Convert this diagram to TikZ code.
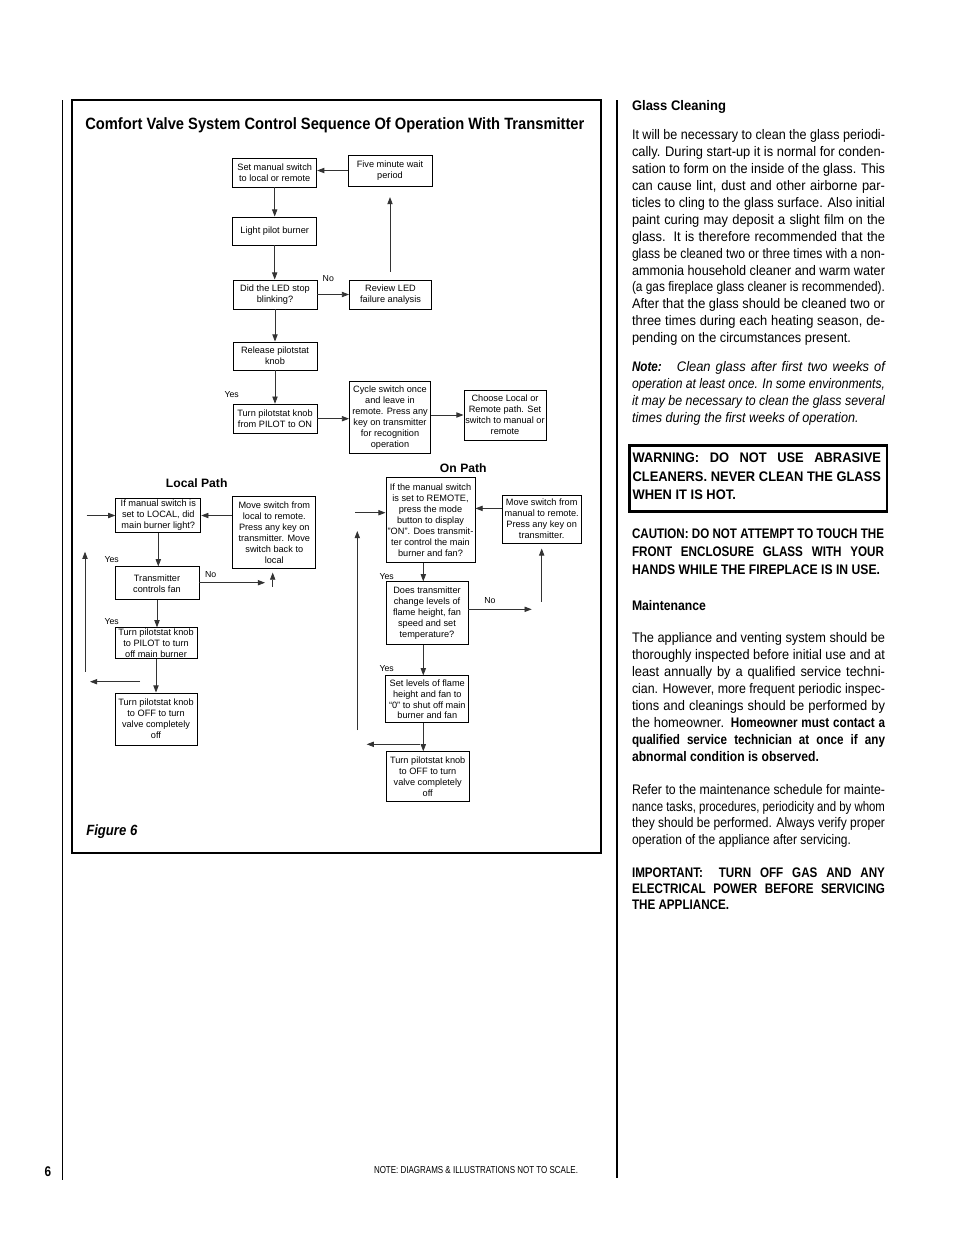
\documentclass[tikz,border=0pt]{standalone}
\usepackage{fontspec}
\usepackage{graphicx}
\setmainfont{Liberation Sans}
\newfontfamily\cond{Liberation Sans}[FakeStretch=0.93]
\newfontfamily\condbf{Liberation Sans}[FakeStretch=0.84]
\usetikzlibrary{arrows.meta}
\newlength\pxu \setlength\pxu{0.6415pt}
\newlength\jwd
\newsavebox\jlbox
\newcommand\jlw[2]{\setlength\jwd{#1\pxu}\sbox\jlbox{#2}\ifdim\wd\jlbox>\jwd\relax\resizebox{\jwd}{\height}{#2}\else\hbox to\jwd{\spaceskip=0.22em plus 1fil\relax #2}\fi}
\newcommand\jl[1]{\jlw{253}{#1}}
\newcommand\fl[2]{\resizebox{#1\pxu}{\height}{#2}}
\newcommand\bt[1]{{\condbf\bfseries #1}}
\tikzset{
  fbox/.style={draw, line width=0.6pt, align=center, inner sep=0pt, font=\fontsize{5.9}{7}\selectfont},
  bx/.style 2 args={minimum width=#1*0.6415pt, minimum height=#2*0.6415pt},
  arr/.style={-{Triangle[length=4.6pt,width=3.4pt]}, line width=0.5pt, draw=black!80},
  lbl/.style={font=\fontsize{5.6}{6}\selectfont, inner sep=0pt},
  hdr/.style={font=\bfseries\fontsize{7.8}{9}\selectfont, inner sep=0pt},
  col/.style={anchor=base west, inner sep=0pt, font=\cond\fontsize{8.9}{10}\selectfont},
  colb/.style={col, font=\condbf\bfseries\fontsize{8.9}{10}\selectfont},
  colw/.style={col, font=\cond\bfseries\fontsize{8.9}{10}\selectfont},
}
\begin{document}
\begin{tikzpicture}[x=0.6415pt,y=-0.6415pt]
\useasboundingbox (0,0) rectangle (954,1235);
\fill[white] (0,0) rectangle (954,1235);
% page rules and figure frame
\draw[line width=0.6pt] (62,100) -- (62,1180);
\draw[line width=1.5pt] (617,100) -- (617,1178);
\draw[line width=0.8pt] (72,100) rectangle (601,853);
\node[anchor=base west, inner sep=0pt, font=\condbf\bfseries\fontsize{10.5}{12}\selectfont] (title) at (85,129)
  {\fl{499}{Comfort Valve System Control Sequence Of Operation With Transmitter}};
% ---------- top chain
\node[fbox, bx={84}{29}] (n1) at (274.7,172.5) {Set manual switch\\to local or remote};
\node[fbox, bx={84}{31}] (n2) at (390,170.5) {Five minute wait\\period};
\node[fbox, bx={84}{28}] (n3) at (274.7,231) {Light pilot burner};
\node[fbox, bx={84}{29}] (n4) at (275,294.5) {Did the LED stop\\blinking?};
\node[fbox, bx={82}{29}] (n5) at (390.5,294.7) {Review LED\\failure analysis};
\node[fbox, bx={84}{28}] (n6) at (275,356) {Release pilotstat\\knob};
\node[fbox, bx={84}{29}] (n7) at (275,418.7) {Turn pilotstat knob\\from PILOT to ON};
\node[fbox, bx={81}{72}] (n8) at (390,417.5) {Cycle switch once\\and leave in\\remote. Press any\\key on transmitter\\for recognition\\operation};
\node[fbox, bx={82}{50}] (n9) at (505,415) {Choose Local or\\Remote path. Set\\switch to manual or\\remote};
\draw[arr] (n2.west) -- (n2.west -| n1.east);
\draw[arr] (n1.south) -- (n1.south |- n3.north);
\draw[arr] (n3.south) -- (n3.south |- n4.north);
\draw[arr] (n4.east) -- (n4.east -| n5.west);
\node[lbl] (no1) at (328.3,278.3) {No};
\draw[arr, shorten <=5.1pt, shorten >=6.8pt] (n2.south |- n5.north) -- (n2.south);
\draw[arr] (n4.south) -- (n4.south |- n6.north);
\draw[arr] (n6.south) -- (n6.south |- n7.north);
\node[lbl] (yes1) at (231.7,395) {Yes};
\draw[arr] (n7.east) -- (n7.east -| n8.west);
\draw[arr] (n9.west -| n8.east) -- (n9.west);
% ---------- local path
\node[hdr] (lp) at (196.7,483.3) {Local Path};
\node[fbox, bx={85}{34}] (a1) at (158.3,515.5) {If manual switch is\\set to LOCAL, did\\main burner light?};
\node[fbox, bx={83}{72}] (a2) at (274.3,532.5) {Move switch from\\local to remote.\\Press any key on\\transmitter. Move\\switch back to\\local};
\node[fbox, bx={84}{33}] (a3) at (157,583.3) {Transmitter\\controls fan};
\node[fbox, bx={82}{31}] (a4) at (156,643.3) {Turn pilotstat knob\\to PILOT to turn\\off main burner};
\node[fbox, bx={82}{52}] (a5) at (156,719) {Turn pilotstat knob\\to OFF to turn\\valve completely\\off};
\draw[arr] (a2.west |- a1.east) -- (a1.east);
\coordinate (k2) at (86.7,515.5);
\draw[arr] (k2) -- (a1.west);
\coordinate (k3) at (85,671.7);
\coordinate (k4) at (85,551.7);
\draw[arr] (k3) -- (k4);
\coordinate (k5) at (140,681.7);
\coordinate (k6) at (90,681.7);
\draw[arr] (k5) -- (k6);
\draw[arr] (a1.south) -- (a1.south |- a3.north);
\node[lbl] (yes2) at (111.7,560) {Yes};
\coordinate (k7) at (265,582.7);
\draw[arr] (a3.east |- k7) -- (k7);
\node[lbl] (no2) at (210.7,574.3) {No};
\coordinate (k8) at (272.7,586.7);
\draw[arr, shorten >=2.3pt] (k8) -- (k8 |- a2.south);
\draw[arr] (a3.south) -- (a3.south |- a4.north);
\node[lbl] (yes3) at (111.7,621.7) {Yes};
\draw[arr] (a4.south) -- (a4.south |- a5.north);
% ---------- on path
\node[hdr] (op) at (463.3,468.3) {On Path};
\node[fbox, bx={89}{85}] (b1) at (430.5,520) {If the manual switch\\is set to REMOTE,\\press the mode\\button to display\\"ON". Does transmit-\\ter control the main\\burner and fan?};
\node[fbox, bx={79}{48}] (b2) at (541.7,519) {Move switch from\\manual to remote.\\Press any key on\\transmitter.};
\node[fbox, bx={82}{63}] (b3) at (427,613.3) {Does transmitter\\change levels of\\flame height, fan\\speed and set\\temperature?};
\node[fbox, bx={83}{47}] (b4) at (427.3,699.3) {Set levels of flame\\height and fan to\\``0'' to shut off main\\burner and fan};
\node[fbox, bx={83}{50}] (b5) at (427.7,776.7) {Turn pilotstat knob\\to OFF to turn\\valve completely\\off};
\draw[arr] ([yshift=6.8pt]b2.west) -- ([yshift=6.8pt]b2.west -| b1.east);
\coordinate (m2) at (355,512.7);
\draw[arr] (m2) -- (m2 -| b1.west);
\coordinate (m3) at (357.3,730);
\coordinate (m4) at (357.3,531);
\draw[arr] (m3) -- (m4);
\coordinate (bx) at (423.3,0);
\draw[arr] (bx |- b1.south) -- (bx |- b3.north);
\node[lbl] (yes4) at (386.7,576.7) {Yes};
\coordinate (m5) at (531.7,609.3);
\draw[arr] (m5 -| b3.east) -- (m5);
\node[lbl] (no3) at (490,601) {No};
\coordinate (m6) at (541.7,601.7);
\draw[arr, shorten >=3.2pt] (m6) -- (m6 |- b2.south);
\draw[arr] (bx |- b3.south) -- (bx |- b4.north);
\node[lbl] (yes5) at (386.7,668.3) {Yes};
\draw[arr] (bx |- b4.south) -- (bx |- b5.north);
\coordinate (m7) at (420,744.3);
\coordinate (m8) at (366.7,744.3);
\draw[arr] (m7) -- (m8);
\node[anchor=base west, inner sep=0pt, font=\condbf\bfseries\itshape\fontsize{9.5}{11}\selectfont] (fig) at (86,835) {\fl{51}{Figure 6}};
% ---------- right column
\node[colb] (h1) at (631.7,110.5) {\fl{94}{Glass Cleaning}};
\foreach \tx [count=\i] in {
{\jl{It will be necessary to clean the glass periodi-}},
{\jl{cally.  During start-up it is normal for conden-}},
{\jl{sation to form on the inside of the glass.  This}},
{\jl{can cause lint, dust and other airborne par-}},
{\jl{ticles to cling to the glass surface. Also initial}},
{\jl{paint curing may deposit a slight film on the}},
{\jl{glass.  It is therefore recommended that the}},
{\jl{glass be cleaned two or three times with a non-}},
{\jl{ammonia household cleaner and warm water}},
{\jl{(a gas fireplace glass cleaner is recommended).}},
{\jl{After that the glass should be cleaned two or}},
{\jl{three times during each heating season, de-}},
{\fl{219}{pending on the circumstances present.}}}
{\node[col] (gc\i) at (631.7,{139.5+(\i-1)*16.94}) {\tx};}
\foreach \tx [count=\i] in {
{\jl{\itshape\bt{Note:}\hspace{0.5em} Clean glass after first two weeks of}},
{\jl{\itshape operation at least once. In some environments,}},
{\jl{\itshape it may be necessary to clean the glass several}},
{\fl{226.6}{\itshape times during the first weeks of operation.}}}
{\node[col] (nt\i) at (631.7,{371.8+(\i-1)*17}) {\tx};}
\draw[line width=1.73pt] (629.7,445.3) rectangle (887,511.3);
\foreach \tx [count=\i] in {
{\jlw{248.4}{WARNING: DO NOT USE ABRASIVE}},
{\jlw{248.4}{CLEANERS. NEVER CLEAN THE GLASS}},
{WHEN IT IS HOT.}}
{\node[colw] (wn\i) at (632.3,{462.5+(\i-1)*18.5}) {\tx};}
\foreach \tx [count=\i] in {
{\jlw{252}{CAUTION: DO NOT ATTEMPT TO TOUCH THE}},
{\jlw{252}{FRONT ENCLOSURE GLASS WITH YOUR}},
{\fl{248}{HANDS WHILE THE FIREPLACE IS IN USE.}}}
{\node[colb] (ca\i) at (631.7,{538.5+(\i-1)*18}) {\tx};}
\node[colb] (h2) at (631.7,610.2) {\fl{74}{Maintenance}};
\foreach \tx [count=\i] in {
{\jl{The appliance and venting system should be}},
{\jl{thoroughly inspected before initial use and at}},
{\jl{least annually by a qualified service techni-}},
{\jl{cian. However, more frequent periodic inspec-}},
{\jl{tions and cleanings should be performed by}},
{\jl{the homeowner. \bt{Homeowner must contact a}}},
{\jl{\condbf\bfseries qualified service technician at once if any}},
{\fl{187}{\condbf\bfseries abnormal condition is observed.}}}
{\node[col] (mt\i) at (631.7,{642.8+(\i-1)*16.9}) {\tx};}
\foreach \tx [count=\i] in {
{\jl{Refer to the maintenance schedule for mainte-}},
{\jl{nance tasks, procedures, periodicity and by whom}},
{\jl{they should be performed.  Always verify proper}},
{\fl{219}{operation of the appliance after servicing.}}}
{\node[col] (rf\i) at (631.7,{794.5+(\i-1)*16.67}) {\tx};}
\foreach \tx [count=\i] in {
{\jl{IMPORTANT:\hspace{0.5em} TURN OFF GAS AND ANY}},
{\jl{ELECTRICAL POWER BEFORE SERVICING}},
{THE APPLIANCE.}}
{\node[colb] (im\i) at (631.7,{877.8+(\i-1)*15.85}) {\tx};}
% ---------- footer
\node[inner sep=0pt, font=\condbf\bfseries\fontsize{9}{10}\selectfont] (pg) at (48,1172) {6};
\node[inner sep=0pt, font=\cond\fontsize{6.5}{7}\selectfont] (ft) at (476,1170) {\fl{204}{NOTE: DIAGRAMS \& ILLUSTRATIONS NOT TO SCALE.}};
\end{tikzpicture}
\end{document}
